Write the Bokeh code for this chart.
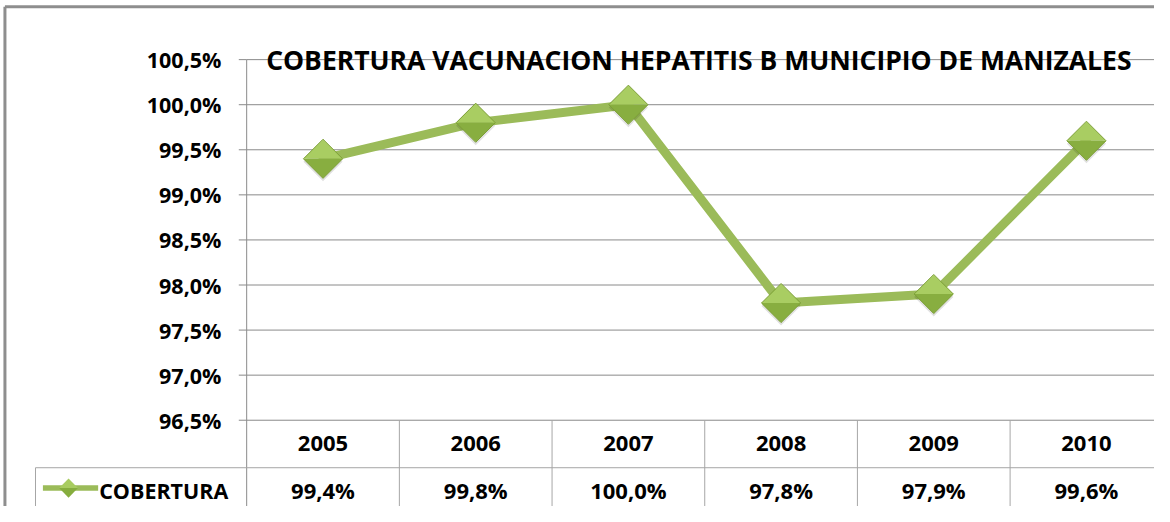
import numpy as np
from bokeh.plotting import figure
from bokeh.models import Range1d
from bokeh.core.properties import value
from bokeh.embed import file_html
from bokeh.resources import INLINE

# ---------------- data ----------------
years = [2005, 2006, 2007, 2008, 2009, 2010]
year_labels = ["2005", "2006", "2007", "2008", "2009", "2010"]
coverage = [99.4, 99.8, 100.0, 97.8, 97.9, 99.6]
series_name = "COBERTURA"
title_text = "COBERTURA VACUNACION HEPATITIS B MUNICIPIO DE MANIZALES"
y_ticks = [96.5, 97.0, 97.5, 98.0, 98.5, 99.0, 99.5, 100.0, 100.5]
y_tick_labels = ["96,5%", "97,0%", "97,5%", "98,0%", "98,5%", "99,0%", "99,5%", "100,0%", "100,5%"]
value_labels = ["99,4%", "99,8%", "100,0%", "97,8%", "97,9%", "99,6%"]

# ---------------- layout ----------------
W, H = 1154, 506          # figure size (fits the 1170x522 window with 8px margin)
REF_W, REF_H = 1170, 522  # design canvas, scaled into the figure
SX, SY = W / REF_W, H / REF_H
PXX = 154.8               # design pixels per year
PXY = 93.0                # design pixels per percentage point
FIRST_PX = 327            # design x of first category
TOP_PX = 61               # design y of top tick

def fx(px):
    return years[0] + (px - FIRST_PX) / PXX

def fy(py):
    return y_ticks[-1] - (py - TOP_PX) / PXY

x_start, x_end = fx(0), fx(REF_W)
y_end, y_start = fy(0), fy(REF_H)

FONT = "Open Sans"
GREEN = "#9bbb59"
GRID = "#8a8a8a"
TABLE = "#a6a6a6"

p = figure(width=W, height=H, output_backend="svg", toolbar_location=None,
           x_range=Range1d(x_start, x_end), y_range=Range1d(y_start, y_end),
           x_axis_location=None, y_axis_location=None,
           min_border=0, min_border_left=0, min_border_right=0,
           min_border_top=0, min_border_bottom=0)
p.xgrid.visible = False
p.ygrid.visible = False
p.outline_line_color = None
p.background_fill_color = "white"
p.border_fill_color = "white"

axis_x = years[0] - 0.5
right_x = years[-1] + 1.0

# outer chart border (left + top; right/bottom are cut off in the original)
bx, by = fx(4.5), fy(6.5)
p.segment(x0=[bx, bx], y0=[y_start, by], x1=[bx, x_end], y1=[by, by],
          line_color="#8e8e8e", line_width=3)

# horizontal gridlines
p.segment(x0=[axis_x] * len(y_ticks), y0=y_ticks, x1=[right_x] * len(y_ticks), y1=y_ticks,
          line_color=GRID, line_width=1)
# tick marks
tick_len = 8 / PXX
p.segment(x0=[axis_x - tick_len] * len(y_ticks), y0=y_ticks, x1=[axis_x] * len(y_ticks), y1=y_ticks,
          line_color=GRID, line_width=1)
# vertical axis line, running down through the data table
p.segment(x0=[axis_x], y0=[y_ticks[-1]], x1=[axis_x], y1=[y_start], line_color=GRID, line_width=1)

# y tick labels
p.text(x=[fx(224)] * len(y_ticks), y=y_ticks, text=y_tick_labels,
       text_align="right", text_baseline="middle", text_font=value(FONT),
       text_font_style="bold", text_font_size="21.5px", text_color="#000000")

# ---------------- data table ----------------
row_split = fy(482)
bottom = y_start
sep_x = [y + 0.5 for y in years]
p.segment(x0=sep_x, y0=[y_ticks[0]] * len(sep_x), x1=sep_x, y1=[bottom] * len(sep_x),
          line_color=TABLE, line_width=1)
legend_left = fx(35.5)
p.segment(x0=[legend_left], y0=[row_split], x1=[right_x], y1=[row_split], line_color=TABLE, line_width=1)
p.segment(x0=[legend_left], y0=[row_split], x1=[legend_left], y1=[bottom], line_color=TABLE, line_width=1)

year_row_y = fy(457)
value_row_y = fy(505)
p.text(x=years, y=[year_row_y] * len(years), text=year_labels, text_align="center",
       text_baseline="middle", text_font=value(FONT), text_font_style="bold",
       text_font_size="22px", text_color="#000000")
p.text(x=years, y=[value_row_y] * len(years), text=value_labels, text_align="center",
       text_baseline="middle", text_font=value(FONT), text_font_style="bold",
       text_font_size="22px", text_color="#000000")

# legend key inside the table
key_y = fy(503)
p.line(x=[fx(43), fx(99)], y=[key_y, key_y], line_color=GREEN, line_width=5.5)
lx = fx(69)
ldx, ldy = 9.5 / PXX, 10 / PXY
p.patch(x=[lx - ldx, lx, lx + ldx], y=[key_y, key_y + ldy, key_y],
        fill_color="#a8cc60", line_color=None)
p.patch(x=[lx - ldx, lx + ldx, lx], y=[key_y, key_y, key_y - ldy],
        fill_color="#86ad3e", line_color=None)
p.text(x=[fx(100)], y=[value_row_y], text=[series_name], text_align="left",
       text_baseline="middle", text_font=value(FONT), text_font_style="bold",
       text_font_size="21.5px", text_color="#000000")

# ---------------- series ----------------
p.line(x=years, y=coverage, line_color=GREEN, line_width=9, line_join="round", line_cap="round")

dx, dy = 20 / PXX, 20 / PXY
top_xs = [[x - dx, x, x + dx] for x in years]
top_ys = [[v, v + dy, v] for v in coverage]
bot_xs = [[x - dx, x + dx, x] for x in years]
bot_ys = [[v, v, v - dy] for v in coverage]
sh = 3 / PXY
diam = 28.3 * (SX + SY) / 2
p.scatter(x=years, y=[v - sh for v in coverage], marker="square", angle=np.pi / 4, size=diam,
          fill_color="#000000", fill_alpha=0.12, line_color=None)
p.patches(xs=top_xs, ys=top_ys, fill_color="#a9cd62", line_color=None)
p.patches(xs=bot_xs, ys=bot_ys, fill_color="#88ae40", line_color=None)
p.scatter(x=years, y=coverage, marker="square", angle=np.pi / 4, size=diam,
          fill_color=None, line_color="#7c9f36", line_width=1)

# title
p.text(x=[fx(708)], y=[fy(61)], text=[title_text], text_align="center",
       text_baseline="alphabetic", text_font=value(FONT), text_font_style="bold",
       text_font_size="26.5px", text_color="#000000")

open("out.html", "w").write(file_html(p, INLINE))
